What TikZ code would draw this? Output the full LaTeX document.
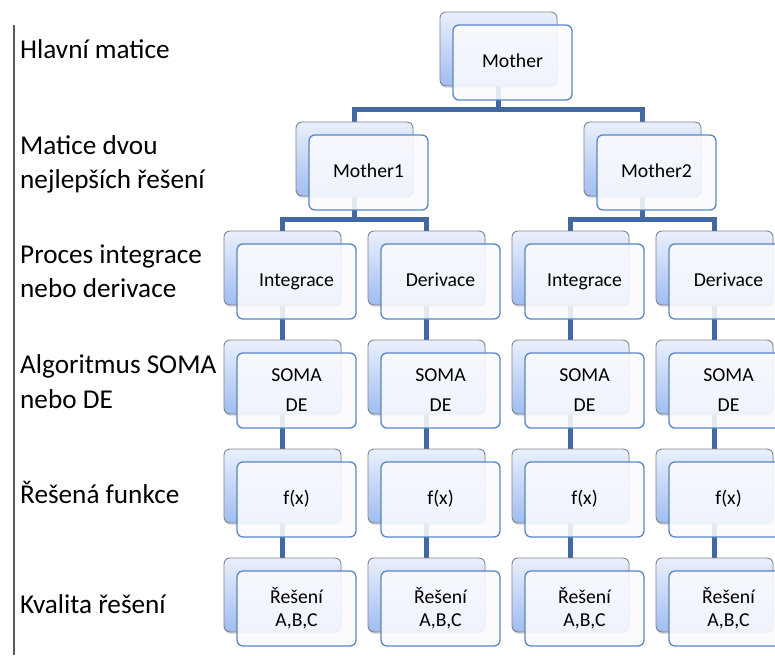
\documentclass[tikz,border=0pt]{standalone}
\usepackage{fontspec}
\setmainfont{Carlito}
\usetikzlibrary{shadows,backgrounds}

\definecolor{linkblue}{RGB}{66,104,162}
\definecolor{backtop}{RGB}{234,240,252}
\definecolor{backbot}{RGB}{160,188,240}
\definecolor{backedge}{RGB}{128,132,140}
\definecolor{frontedge}{RGB}{88,134,196}
\definecolor{frontfill}{RGB}{250,251,254}
\definecolor{rulegray}{RGB}{90,90,90}

\tikzset{
  backbox/.style={rounded corners=6pt, draw=backedge, line width=0.9pt,
    top color=backtop, bottom color=backbot,
    minimum width=117pt, minimum height=74pt, inner sep=0pt,
    drop shadow={opacity=0.25, shadow xshift=0.5pt, shadow yshift=-2pt}},
  frontbox/.style={rounded corners=6pt, draw=frontedge, line width=1.3pt,
    fill=frontfill, fill opacity=0.88, text opacity=1,
    minimum width=119pt, minimum height=75pt, inner sep=0pt, align=center,
    font=\fontsize{19.7}{23}\selectfont},
  link/.style={draw=linkblue, line width=4.8pt},
  rowlabel/.style={anchor=base west, inner sep=0pt,
    font=\fontsize{27.2}{33}\selectfont},
}

% a shaded card with a white card laid over it; #2,#3 = top left of the shaded card
\newcommand{\dvojbox}[4]{%
  \node[backbox] (b#1) at (#2+58.5, #3+37) {};
  \node[frontbox] (f#1) at (#2+72.5, #3+50.5) {#4};
}

\begin{document}
\begin{tikzpicture}[x=1pt, y=-1pt]
  \useasboundingbox (0,0) rectangle (775,655);
  \clip (0,0) rectangle (775,655);

  % row captions
  \coordinate (rtop) at (14,25);
  \coordinate (rbot) at (14,655);
  \draw[rulegray, line width=1.2pt] (rtop) -- (rbot);
  \node[rowlabel] (l1)  at (20,59)  {Hlavní matice};
  \node[rowlabel] (l2a) at (20,154) {Matice dvou};
  \node[rowlabel] (l2b) at (20,188) {nejlepších řešení};
  \node[rowlabel] (l3a) at (20,263) {Proces integrace};
  \node[rowlabel] (l3b) at (20,297) {nebo derivace};
  \node[rowlabel] (l4a) at (20,373) {Algoritmus SOMA};
  \node[rowlabel] (l4b) at (20,408) {nebo DE};
  \node[rowlabel] (l5)  at (20,503) {Řešená funkce};
  \node[rowlabel] (l6)  at (20,613) {Kvalita řešení};

  % hierarchy cards
  \dvojbox{mo}{440}{12}{\strut Mother}
  \dvojbox{ma}{296}{122}{\strut Mother1}
  \dvojbox{mb}{584}{122}{\strut Mother2}

  \foreach \c/\x/\t in {1/224/Integrace, 2/368/Derivace, 3/512/Integrace, 4/656/Derivace}{
    \dvojbox{c\c r3}{\x}{231}{\strut\t}
    \dvojbox{c\c r4}{\x}{340}{SOMA\\[7pt]DE}
    \dvojbox{c\c r5}{\x}{449}{\strut f(x)}
    \dvojbox{c\c r6}{\x}{558}{Řešení\\A,B,C}
  }

  % connectors
  \begin{scope}[on background layer]
    \draw[link] (bmo.south) -- ++(0,23) -| (bma.north);
    \draw[link] (bmo.south) -- ++(0,23) -| (bmb.north);
    \draw[link] (bma.south) -- ++(0,23) -| (bc1r3.north);
    \draw[link] (bma.south) -- ++(0,23) -| (bc2r3.north);
    \draw[link] (bmb.south) -- ++(0,23) -| (bc3r3.north);
    \draw[link] (bmb.south) -- ++(0,23) -| (bc4r3.north);
    \foreach \c in {1,2,3,4}{
      \draw[link] (bc\c r3.south) -- (bc\c r4.north);
      \draw[link] (bc\c r4.south) -- (bc\c r5.north);
      \draw[link] (bc\c r5.south) -- (bc\c r6.north);
    }
  \end{scope}
\end{tikzpicture}
\end{document}
